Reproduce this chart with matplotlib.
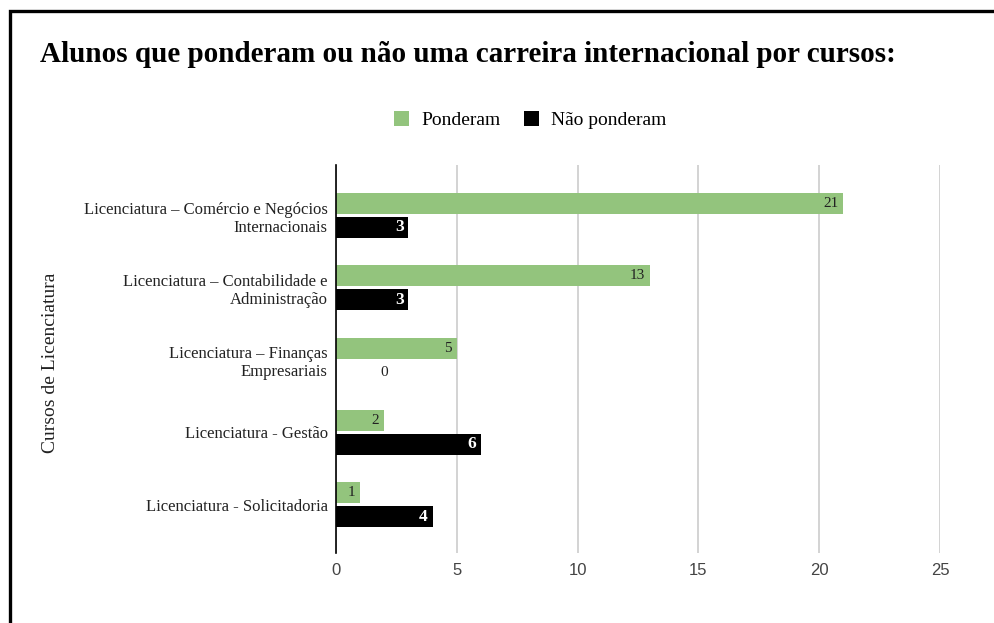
import matplotlib
matplotlib.use("Agg")
import matplotlib.pyplot as plt
from matplotlib.patches import Rectangle

categories = [
    "Licenciatura – Comércio e Negócios\nInternacionais",
    "Licenciatura – Contabilidade e\nAdministração",
    "Licenciatura – Finanças\nEmpresariais",
    "Licenciatura - Gestão",
    "Licenciatura - Solicitadoria",
]
ponderam = [21, 13, 5, 2, 1]
nao_ponderam = [3, 3, 0, 6, 4]
xticks = [0, 5, 10, 15, 20, 25]

GREEN = "#93c47d"
SERIF = ["Liberation Serif", "DejaVu Serif"]
SANS = ["Liberation Sans", "DejaVu Sans"]

fig = plt.figure(figsize=(9.95, 6.23), dpi=100)
W, H = 995, 623
ax = fig.add_axes([336 / W, 1 - 553 / H, (940 - 336) / W, (553 - 165) / H])

pos = list(range(len(categories)))
bh = 0.29
off = 0.165
ax.barh([p - off for p in pos], ponderam, height=bh, color=GREEN, zorder=3, label="Ponderam")
ax.barh([p + off for p in pos], nao_ponderam, height=bh, color="black", zorder=3, label="Não ponderam")

for p, v in zip(pos, ponderam):
    ax.text(v - 0.2, p - off, str(v), ha="right", va="center", fontsize=11,
            family=SERIF, color="#222222", zorder=4)
for p, v in zip(pos, nao_ponderam):
    if v > 0:
        ax.text(v - 0.2, p + off, str(v), ha="right", va="center", fontsize=12.5,
                family=SERIF, color="white", fontweight="bold", zorder=4)
    else:
        ax.text(v + 2.0, p + off, str(v), ha="center", va="center", fontsize=11,
                family=SERIF, color="#222222", zorder=4)

ax.set_xlim(0, 25)
ax.set_ylim(4.67, -0.70)
ax.set_xticks(xticks)
ax.set_xticklabels([str(t) for t in xticks], family=SANS, fontsize=12, color="#444444")
ax.set_yticks(pos)
ax.set_yticklabels(categories, family=SERIF, fontsize=12, color="#222222", ha="right",
                   multialignment="right")
ax.tick_params(axis="both", length=0)
ax.tick_params(axis="x", pad=7)
ax.tick_params(axis="y", pad=6)
ax.grid(axis="x", color="#cccccc", linewidth=1.2, zorder=0)
ax.set_axisbelow(True)
for s in ["top", "right", "bottom"]:
    ax.spines[s].set_visible(False)
ax.spines["left"].set_color("black")
ax.spines["left"].set_linewidth(1.2)
ax.spines["left"].set_zorder(5)

ax.set_ylabel("Cursos de Licenciatura", family=SERIF, fontsize=14, color="#222222")
ax.yaxis.set_label_coords((59 - 336) / (940 - 336), 0.49)

fig.text(40 / W, 1 - 55 / H, "Alunos que ponderam ou não uma carreira internacional por cursos:",
         family=SERIF, fontsize=21, fontweight="bold", ha="left", va="center", color="black")

handles, labels = ax.get_legend_handles_labels()
leg = fig.legend(handles, labels, loc="center", bbox_to_anchor=(530 / W, 1 - 120 / H), ncol=2,
                 frameon=False, prop={"family": SERIF, "size": 14}, handlelength=0.8,
                 handleheight=0.8, columnspacing=1.2, handletextpad=0.6)

fig.patches.append(Rectangle((10 / W, -0.1), 1.2, (1 - 11 / H) + 0.1, transform=fig.transFigure,
                             fill=False, edgecolor="black", linewidth=2.4, figure=fig))

fig.savefig("out.png", dpi=100, facecolor="white")
